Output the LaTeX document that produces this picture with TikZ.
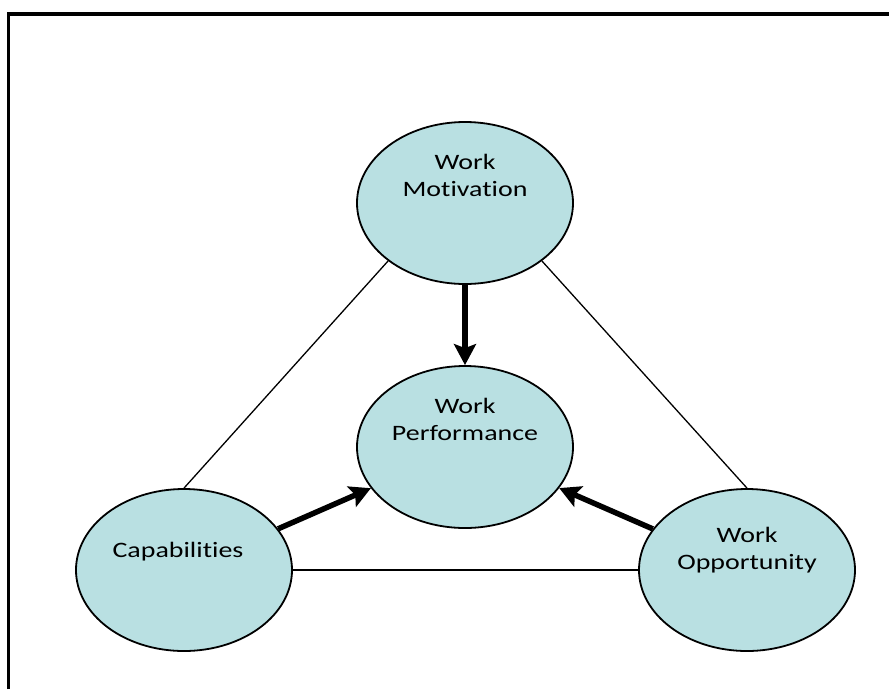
\documentclass[tikz,border=0pt]{standalone}
\usepackage{fontspec}
\setmainfont[FakeStretch=1.27, Ligatures={NoCommon,NoContextual}, RawFeature={-liga;-clig}]{Carlito}
\usetikzlibrary{shapes.geometric, arrows.meta}
\definecolor{bubble}{RGB}{185,224,226}
\begin{document}
\begin{tikzpicture}[x=1pt, y=-1pt, main/.style = {draw, ellipse, fill=bubble, line width=1.8pt, minimum width=216pt, minimum height=162pt, inner sep=0pt}, txt/.style = {anchor=north, inner sep=0pt, align=center, font=\fontsize{22}{27.5}\selectfont}, link/.style = {line width=1.3pt}, push/.style = {line width=5.5pt, -{Stealth[length=21pt, width=22pt, inset=4pt]}}]
    \useasboundingbox (0,0) rectangle (889,689);
    % cornice
    \draw[line width=3.3pt] (8.7,689) -- (8.7,14) -- (889,14);

    % i quattro fattori
    \node[main] (mot) at (465,203) {};
    \node[main] (perf) at (465,447) {};
    \node[main] (cap) at (184,570) {};
    \node[main] (opp) at (747,570) {};

    \node[txt] (mot-t) at (465,154) {Work\\Motivation};
    \node[txt] (perf-t) at (465,398) {Work\\Performance};
    \node[txt] (cap-t) at (178,542) {Capabilities};
    \node[txt] (opp-t) at (747,527) {Work\\Opportunity};

    \draw[link] (cap.north) -- (mot.217);
    \draw[link] (opp.north) -- (mot.323);
    \draw[link] (cap) -- (opp);

    \draw[push] (mot) -- (perf);
    \draw[push] (cap) -- (perf);
    \draw[push] (opp) -- (perf);

\end{tikzpicture}
\end{document}
